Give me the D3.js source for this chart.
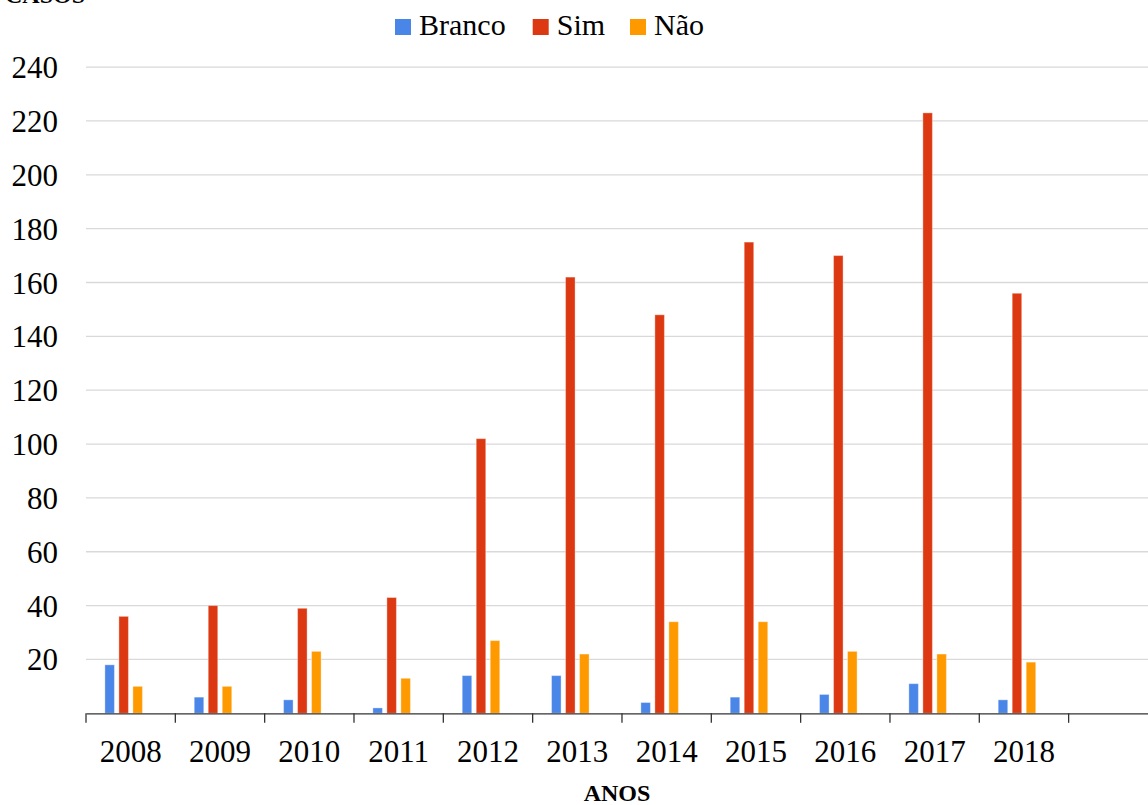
<!DOCTYPE html>
<html lang="pt">
<head>
    <meta charset="UTF-8">
    <script src="https://d3js.org/d3.v7.min.js"></script>
    <title>Casos por ano</title>
    <style>
        body{ margin:0; background:#fff; }
    </style>
</head>
<body>
<div id="chart"></div>
<script>
// data
const years = ["2008","2009","2010","2011","2012","2013","2014","2015","2016","2017","2018"];
const branco = [18, 6, 5, 2, 14, 14, 4, 6, 7, 11, 5];
const sim    = [36, 40, 39, 43, 102, 162, 148, 175, 170, 223, 156];
const nao    = [10, 10, 23, 13, 27, 22, 34, 34, 23, 22, 19];
const yTicks = [20, 40, 60, 80, 100, 120, 140, 160, 180, 200, 220, 240];
const seriesNames = ["Branco", "Sim", "Não"];
const colors = ["#4a86e8", "#dc3912", "#ff9900"];

const W = 1148, H = 805;
const svg = d3.select("#chart").append("svg").attr("width", W).attr("height", H)
    .attr("font-family", "'Liberation Serif', 'Times New Roman', Times, serif");

// x: 11 years + one empty slot at the end
const slots = years.concat([""]);
const x0 = d3.scaleBand().domain(slots).range([86, 86 + 12 * 89.33]);
// four sub-slots, the last one stays empty
const x1 = d3.scaleBand().domain([0, 1, 2, 3]).range([0, x0.bandwidth()])
    .paddingInner(0.32).paddingOuter(1.35);
const y = d3.scaleLinear().domain([0, 240]).range([713.3, 67.1]);

// gridlines
svg.append("g").selectAll("line").data(yTicks).join("line")
    .attr("x1", 86).attr("x2", W)
    .attr("y1", d => y(d)).attr("y2", d => y(d))
    .attr("stroke", "#d9d9d9").attr("stroke-width", 1.3);

// y labels
svg.append("g").selectAll("text").data(yTicks).join("text")
    .attr("x", 58).attr("y", d => y(d) + 11)
    .attr("text-anchor", "end").attr("font-size", 31)
    .text(d => d);

// bars
const table = years.map((yr, i) => ({ year: yr, vals: [branco[i], sim[i], nao[i]] }));
const groups = svg.append("g").selectAll("g").data(table).join("g")
    .attr("transform", d => `translate(${x0(d.year)},0)`);
groups.selectAll("rect").data(d => d.vals).join("rect")
    .attr("x", (d, i) => x1(i))
    .attr("width", x1.bandwidth())
    .attr("y", d => y(d))
    .attr("height", d => y(0) - y(d))
    .attr("fill", (d, i) => colors[i])
    .attr("stroke", "#fff").attr("stroke-opacity", 0.35).attr("stroke-width", 1);

// x axis
const xAxis = d3.axisBottom(x0).tickSize(0).tickFormat("");
const ax = svg.append("g").attr("transform", `translate(0,${y(0)})`).call(xAxis);
ax.select(".domain").attr("stroke", "#333").attr("stroke-width", 1.3);
ax.selectAll(".tick").remove();
svg.append("g").selectAll("line").data(slots).join("line")
    .attr("x1", d => x0(d)).attr("x2", d => x0(d))
    .attr("y1", y(0)).attr("y2", y(0) + 9.5)
    .attr("stroke", "#333").attr("stroke-width", 1.3);
svg.append("g").selectAll("text").data(years).join("text")
    .attr("x", d => x0(d) + x0.bandwidth() / 2).attr("y", 761.5)
    .attr("text-anchor", "middle").attr("font-size", 31)
    .text(d => d);

// axis titles
svg.append("text").attr("x", 617).attr("y", 801)
    .attr("text-anchor", "middle").attr("font-size", 24).attr("font-weight", "bold")
    .text("ANOS");
svg.append("text").attr("x", 5).attr("y", 3)
    .attr("font-size", 24).attr("font-weight", "bold")
    .text("CASOS");

// legend
const legX = [395, 532.7, 630];
const leg = svg.append("g").selectAll("g").data(seriesNames).join("g")
    .attr("transform", (d, i) => `translate(${legX[i]},0)`);
leg.append("rect").attr("x", 0).attr("y", 19).attr("width", 16).attr("height", 16)
    .attr("fill", (d, i) => colors[i]);
leg.append("text").attr("x", 24).attr("y", 35).attr("font-size", 30).text(d => d);
</script>
</body>
</html>
